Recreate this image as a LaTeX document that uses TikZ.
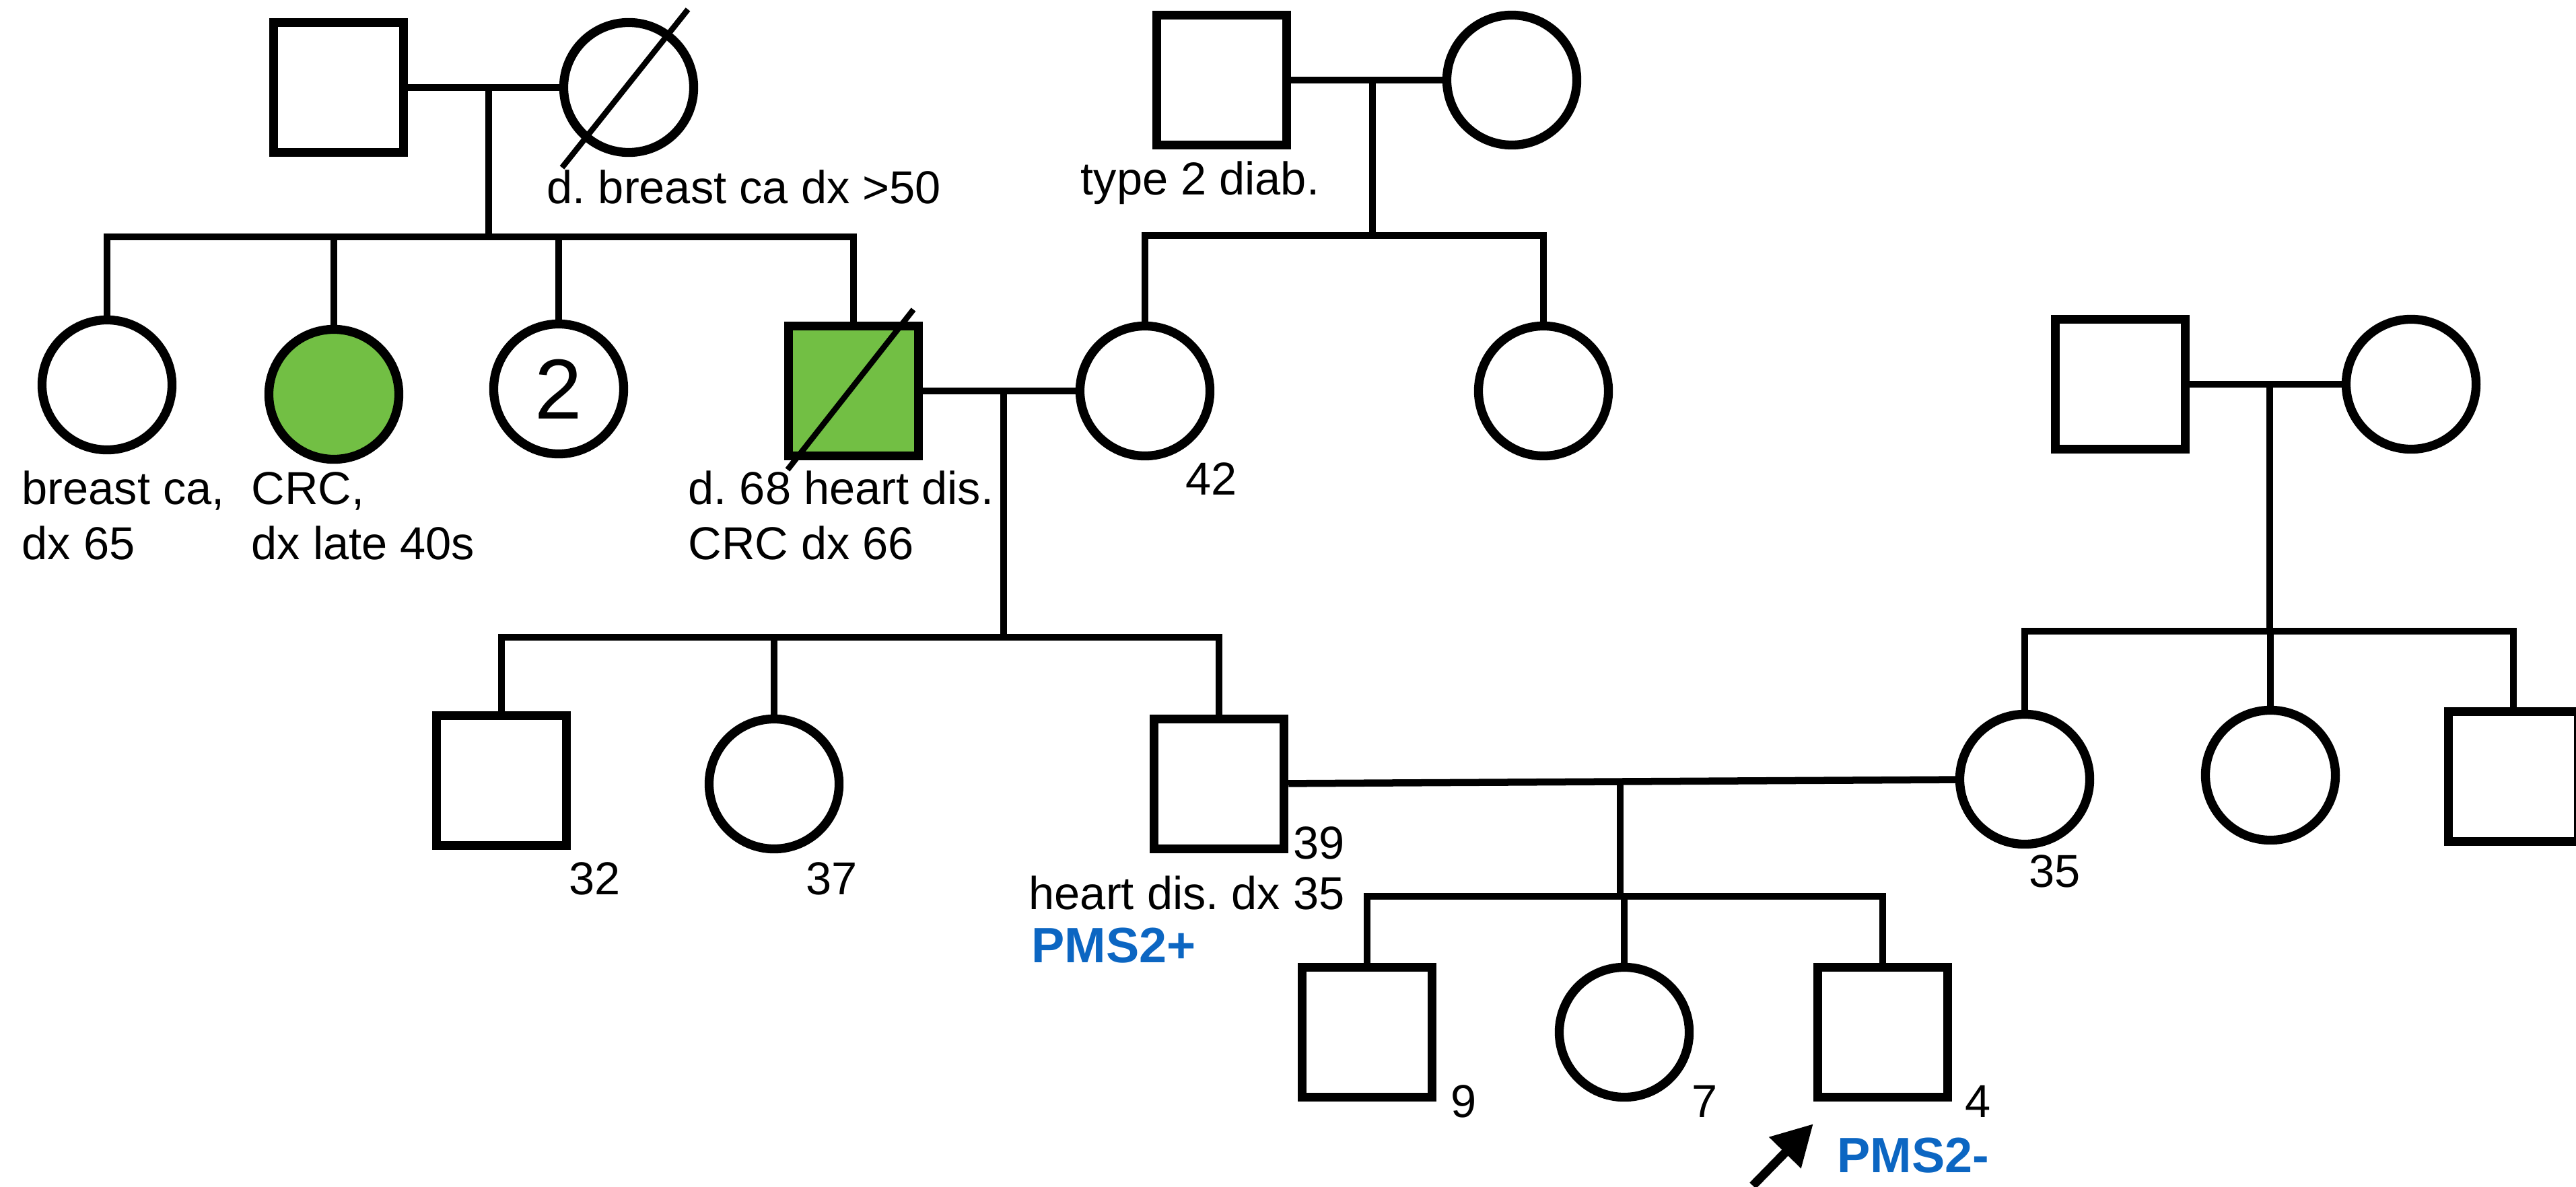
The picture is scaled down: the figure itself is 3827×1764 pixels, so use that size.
\documentclass[tikz,border=0pt]{standalone}
\usepackage{fontspec}
\setmainfont{Liberation Sans}
\frenchspacing
\usetikzlibrary{arrows.meta, positioning, calc}
\definecolor{crcgreen}{RGB}{114,191,68}
\definecolor{pmsblue}{RGB}{12,102,194}

\tikzset{
  person/.style={draw, line width=0.133cm, minimum size=1.93cm, inner sep=0pt},
  male/.style={person, rectangle},
  female/.style={person, circle},
  affected/.style={fill=crcgreen},
  rel/.style={line width=0.105cm},
  slash/.style={line width=0.085cm},
  note/.style={inner sep=0pt, anchor=base west, align=left, font=\fontsize{19.5}{23.3}\selectfont},
  result/.style={inner sep=0pt, anchor=base west, text=pmsblue, font=\fontsize{21}{25}\selectfont\bfseries}
}

\begin{document}
\begin{tikzpicture}[x=0.01cm, y=-0.01cm]
  \useasboundingbox (0,0) rectangle (3827,1764);

  \node[male] (ggpaP) at (503,130) {};
  \node[female] (ggmaP) at (934,130) {};
  \node[male] (ggpaM) at (1815,119) {};
  \node[female] (ggmaM) at (2246,119) {};

  \node[female] (auntBreast) at (159,572) {};
  \node[female, affected] (auntCRC) at (496,586) {};
  \node[female, font=\fontsize{36}{40}\selectfont] (auntsTwo) at (830,578) {2};
  \node[male, affected] (grandpa) at (1268,581) {};
  \node[female] (grandma) at (1701,581) {};
  \node[female] (grandmaSis) at (2293,581) {};

  \node[male] (uncle) at (745,1160) {};
  \node[female] (aunt) at (1150,1165) {};
  \node[male] (father) at (1811,1165) {};
  \node[female] (mother) at (3008,1158) {};
  \node[male] (motherDad) at (3150,571) {};
  \node[female] (motherMom) at (3582,571) {};
  \node[female] (motherSis) at (3373,1152) {};
  \node[male] (motherBro) at (3734,1154) {};

  \node[male] (brother) at (2031,1534) {};
  \node[female] (sister) at (2413,1534) {};
  \node[male] (proband) at (2797,1534) {};

  \draw[rel] (ggpaP) -- (ggmaP);
  \coordinate (ggCoupleP) at (726,130);
  \coordinate (sibsII) at (726,352);
  \draw[rel] (ggCoupleP) -- (sibsII);
  \draw[rel] (auntBreast) -- (auntBreast |- sibsII) -- (grandpa |- sibsII) -- (grandpa);
  \draw[rel] (auntCRC) -- (auntCRC |- sibsII);
  \draw[rel] (auntsTwo) -- (auntsTwo |- sibsII);

  \draw[rel] (ggpaM) -- (ggmaM);
  \coordinate (ggCoupleM) at (2039,119);
  \coordinate (sibsIIm) at (2039,350);
  \draw[rel] (ggCoupleM) -- (sibsIIm);
  \draw[rel] (grandma) -- (grandma |- sibsIIm) -- (grandmaSis |- sibsIIm) -- (grandmaSis);

  \draw[rel] (grandpa) -- (grandma);
  \coordinate (gpCouple) at (1491,581);
  \coordinate (sibsIII) at (1491,947);
  \draw[rel] (gpCouple) -- (sibsIII);
  \draw[rel] (uncle) -- (uncle |- sibsIII) -- (father |- sibsIII) -- (father);
  \draw[rel] (aunt) -- (aunt |- sibsIII);

  \draw[rel] (motherDad) -- (motherMom);
  \coordinate (mdCouple) at (3372,571);
  \coordinate (sibsIIIm) at (3372,938);
  \draw[rel] (mdCouple) -- (sibsIIIm);
  \draw[rel] (mother) -- (mother |- sibsIIIm) -- (motherBro |- sibsIIIm) -- (motherBro);
  \draw[rel] (motherSis) -- (motherSis |- sibsIIIm);

  \draw[rel] (father) -- (mother);
  \coordinate (parents) at (2407,1162);
  \coordinate (sibsIV) at (2407,1332);
  \draw[rel] (parents) -- (sibsIV);
  \draw[rel] (brother) -- (brother |- sibsIV) -- (proband |- sibsIV) -- (proband);
  \draw[rel] (sister) -- (sister |- sibsIV);

  \draw[slash] ($(ggmaP)+(-99,119)$) -- ($(ggmaP)+(88,-116)$);
  \draw[slash] ($(grandpa)+(-98,117)$) -- ($(grandpa)+(89,-121)$);

  \coordinate (arrowTail) at (2604,1762);
  \draw[line width=0.13cm, -{Triangle[length=0.6cm, width=0.63cm]}] (arrowTail) -- ($(proband.south west)+(0,33)$);

  \node[note] (ggmaPNote) at (812,303) {d. breast ca dx >50};
  \node[note] (ggpaMNote) at (1605,290) {type 2 diab.};
  \node[note] (auntBreastNote) at (32,831) {breast ca,\\dx 65};
  \node[note] (auntCRCNote) at (373,831) {CRC,\\dx late 40s};
  \node[note] (grandpaNote) at (1022,831) {d. 68 heart dis.\\CRC dx 66};
  \node[note] (grandmaAge) at (1761,735) {42};
  \node[note] (uncleAge) at (845,1329) {32};
  \node[note] (auntAge) at (1197,1329) {37};
  \node[note] (fatherAge) at (1921,1276) {39};
  \node[note] (fatherNote) at (1528,1351) {heart dis. dx 35};
  \node[result] (fatherTest) at (1532,1430) {PMS2+};
  \node[note] (motherAge) at (3014,1318) {35};
  \node[note] (brotherAge) at (2155,1660) {9};
  \node[note] (sisterAge) at (2513,1660) {7};
  \node[note] (probandAge) at (2919,1660) {4};
  \node[result] (probandTest) at (2729,1742) {PMS2-};
\end{tikzpicture}
\end{document}
